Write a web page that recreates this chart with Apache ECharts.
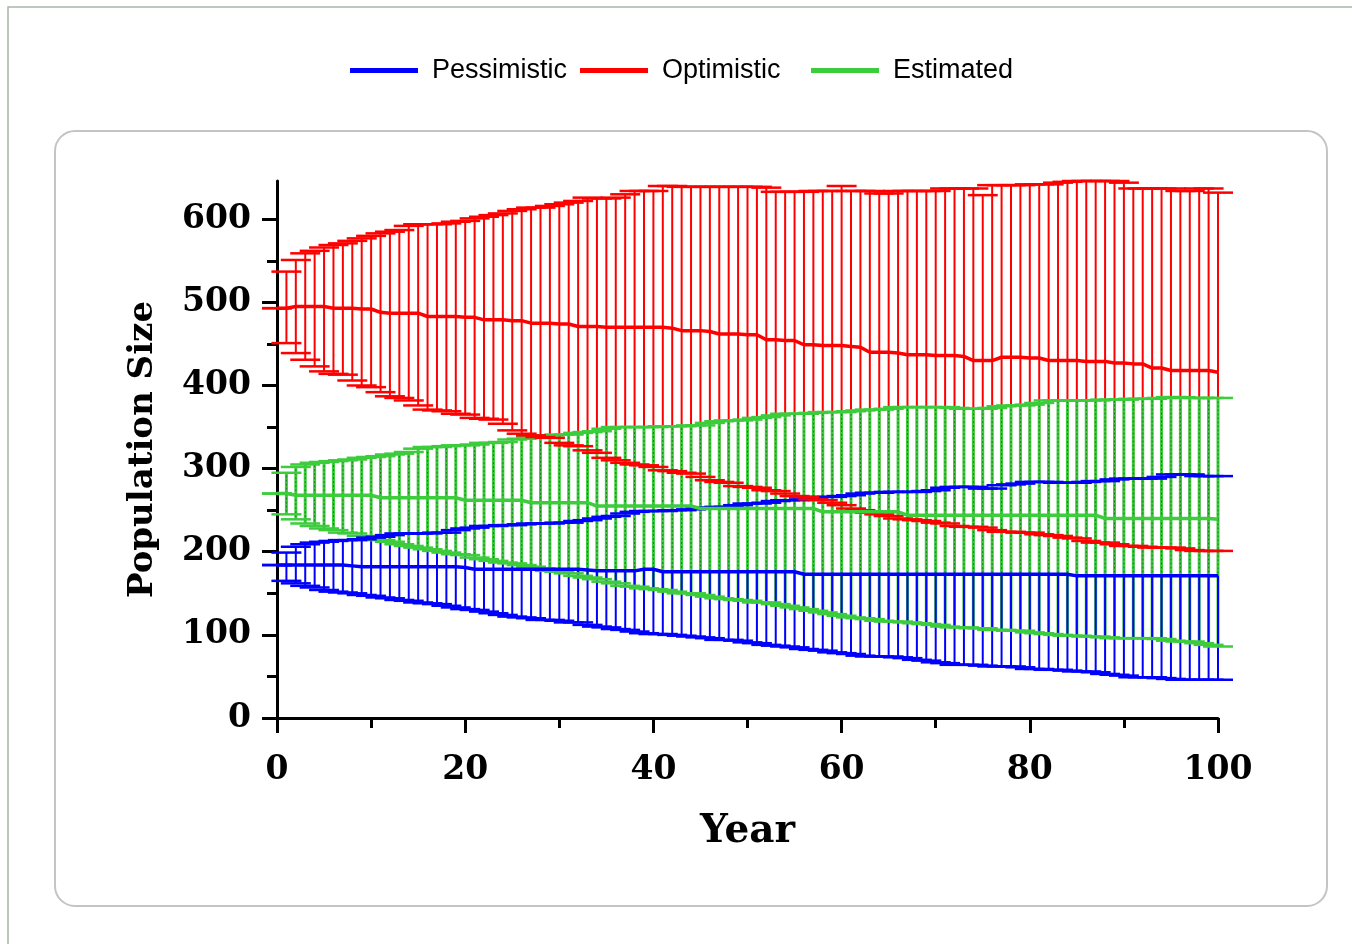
<!DOCTYPE html>
<html>
<head>
<meta charset="utf-8">
<title>Population Size</title>
<script src="https://cdn.jsdelivr.net/npm/echarts@6/dist/echarts.min.js"></script>
<style>
  html, body { margin: 0; padding: 0; background: #fff; }
  #chart { width: 1352px; height: 944px; }
</style>
</head>
<body>
<div id="chart"></div>
<script>
// years 0..100
const years = Array.from({ length: 101 }, (_, i) => i);

// Pessimistic
const pesHigh = [184,
  199,206,209,211,212,213,214,214,215,217,
  218,220,222,222,222,222,223,223,226,228,
  229,231,231,232,232,233,234,234,234,235,
  235,237,238,240,242,243,246,248,249,249,
  249,250,250,251,253,253,254,254,256,258,
  258,259,261,262,262,263,265,266,266,267,
  268,270,271,271,272,272,272,272,273,274,
  277,278,278,278,276,276,280,281,282,284,
  284,284,283,283,283,284,285,285,287,288,
  288,288,288,290,293,293,293,291,291,291];
const pesMean = [184,
  184,184,184,184,184,184,184,183,182,182,
  182,182,182,182,182,182,182,182,182,181,
  179,179,179,179,179,179,179,179,179,179,
  179,179,178,177,177,177,177,177,179,179,
  176,176,176,176,176,176,176,176,176,176,
  176,176,176,176,176,173,173,173,173,173,
  173,173,173,173,173,173,173,173,173,173,
  173,173,173,173,173,173,173,173,173,173,
  173,173,173,173,171,171,171,171,171,171,
  171,171,171,171,171,171,171,171,171,171];
const pesLow = [184,
  165,162,159,157,154,152,151,150,148,147,
  145,144,142,141,139,138,137,135,133,131,
  130,128,126,124,122,121,120,118,118,117,
  115,115,112,110,109,107,106,104,102,101,
  101,100,99,98,97,96,94,94,93,91,
  90,88,87,86,85,83,82,81,79,78,
  77,75,74,74,74,73,72,70,69,67,
  66,64,64,64,63,62,62,62,61,59,
  59,58,58,57,56,56,55,53,52,51,
  49,49,49,48,47,46,46,46,46,46];

// Optimistic
const optHigh = [493,
  537,551,559,562,566,569,571,574,577,580,
  583,585,587,592,594,594,594,595,597,598,
  601,603,605,607,610,612,614,614,616,618,
  620,622,626,625,625,626,630,634,634,634,
  640,640,639,639,639,639,639,639,639,639,
  639,638,633,633,633,633,634,634,634,640,
  634,634,634,631,631,634,634,634,634,634,
  637,637,637,637,629,641,641,641,641,642,
  642,642,644,645,646,646,646,646,646,644,
  637,637,637,637,637,634,634,637,637,632];
const optMean = [493,
  493,495,495,495,495,493,493,493,492,492,
  488,487,487,487,487,483,483,483,483,482,
  482,479,479,479,478,478,475,475,475,474,
  474,471,471,471,470,470,470,470,470,470,
  470,469,466,466,466,465,462,462,462,461,
  461,455,455,454,454,449,449,448,448,448,
  447,446,440,440,440,439,437,437,437,436,
  436,436,435,430,430,430,434,434,434,433,
  433,430,430,430,430,429,429,429,427,427,
  426,426,421,421,418,418,418,418,418,416];
const optLow = [493,
  451,439,431,423,417,414,413,406,400,398,
  392,387,385,382,376,371,370,369,366,365,
  361,360,359,354,346,342,340,338,337,331,
  328,327,322,319,313,310,307,305,304,302,
  298,297,295,294,290,286,284,283,279,278,
  277,274,273,270,267,266,263,262,259,256,
  252,250,247,245,243,240,239,238,237,235,
  234,231,230,230,229,226,224,224,223,223,
  221,220,219,217,216,213,211,211,209,207,
  207,206,205,205,205,204,202,201,201,201];

// Estimated
const estHigh = [270,
  295,302,305,307,308,309,310,311,313,314,
  315,317,318,320,324,326,326,327,328,328,
  329,331,331,332,335,336,338,340,340,341,
  341,343,344,345,348,350,350,350,350,350,
  351,351,351,352,352,355,357,358,358,359,
  361,362,364,366,366,366,367,368,368,368,
  369,370,371,371,372,374,374,374,374,374,
  374,373,372,372,372,373,375,376,376,377,
  379,382,382,382,382,382,382,383,383,383,
  384,384,384,385,386,386,385,385,385,385];
const estMean = [270,
  270,268,268,268,268,268,268,268,268,268,
  265,265,265,265,265,265,265,265,265,262,
  262,262,262,262,262,262,259,259,259,259,
  259,259,259,255,255,255,255,255,255,255,
  255,255,255,255,252,252,252,252,252,252,
  252,252,252,252,252,252,252,248,248,248,
  248,248,248,248,248,248,244,244,244,244,
  244,244,244,244,244,244,244,244,244,244,
  244,244,244,244,244,244,244,240,240,240,
  240,240,240,240,240,240,240,240,240,239];
const estLow = [270,
  245,239,234,231,228,226,223,222,219,217,
  214,212,209,207,205,203,201,199,197,196,
  193,191,189,187,186,184,182,180,177,176,
  174,171,169,167,164,162,159,158,156,155,
  154,152,150,150,148,146,144,143,142,141,
  139,139,137,135,133,131,129,127,125,123,
  121,120,119,117,116,116,115,114,113,112,
  110,109,109,108,108,106,106,105,105,103,
  102,101,100,99,99,98,98,97,96,96,
  96,96,96,95,93,92,92,90,88,86];

const yTicks = [0, 100, 200, 300, 400, 500, 600];
const yMinorTicks = [50, 150, 250, 350, 450, 550];

const BLUE = '#0000ff';
const RED = '#ff0000';
const GREEN = '#3ccc3c';
const GREEN_DOT = '#1e7a1e';

const serifFont = "'DejaVu Serif', serif";

const myChart = echarts.init(document.getElementById('chart'));

// rows: [year, from (mean), to (bound)]
const half = (from, to) => years.map((y, i) => [y, from[i], to[i]]);
const pts = (m) => years.map((y, i) => [y, m[i]]);

// stem of a half error bar (mean -> bound)
const stem = (color, dotColor) => (params, api) => {
    const x = api.value(0);
    const pA = api.coord([x, api.value(1)]);
    const pB = api.coord([x, api.value(2)]);
    const children = [
        { type: 'line', shape: { x1: pA[0], y1: pA[1], x2: pB[0], y2: pB[1] }, style: { stroke: color, lineWidth: dotColor ? 3 : 2 } }
    ];
    if (dotColor) {
        children.push({ type: 'line', shape: { x1: pA[0], y1: pA[1], x2: pB[0], y2: pB[1] }, style: { stroke: dotColor, lineWidth: 1, lineDash: [2, 2] } });
    }
    return { type: 'group', children: children };
};

// cap at the bound
const cap = (color) => (params, api) => {
    const p = api.coord([api.value(0), api.value(2)]);
    const hw = 15;
    return { type: 'line', shape: { x1: p[0] - hw, y1: p[1], x2: p[0] + hw, y2: p[1] }, style: { stroke: color, lineWidth: 2.5 } };
};

const stemSeries = (name, from, to, color, dot, z) => ({
    name: name, type: 'custom', renderItem: stem(color, dot),
    data: half(from, to), encode: { x: 0, y: [1, 2] }, z: z
});
const capSeries = (name, from, to, color, z) => ({
    name: name, type: 'custom', renderItem: cap(color),
    data: half(from, to), encode: { x: 0, y: [1, 2] }, z: z
});
const meanSeries = (name, m, color, z) => ({
    name: name, type: 'line', data: pts(m), showSymbol: false, symbol: 'none',
    lineStyle: { color: color, width: 3.5 }, itemStyle: { color: color }, z: z
});

const legendBase = {
    orient: 'horizontal',
    top: 57,
    padding: 0,
    icon: 'rect',
    itemWidth: 68,
    itemHeight: 5,
    textStyle: { fontSize: 27, fontFamily: "'Liberation Sans', Arial, sans-serif", color: '#000', padding: [0, 0, 0, 9] },
    selectedMode: false
};

let option = {
    backgroundColor: '#fff',
    animation: false,
    graphic: [
        { type: 'rect', z: -10, shape: { x: 8, y: 7, width: 1400, height: 1000 }, style: { fill: '#fff', stroke: '#a9b5a9', lineWidth: 1.5 } },
        { type: 'rect', z: -9, shape: { x: 55, y: 131, width: 1272, height: 775, r: 20 }, style: { fill: '#fff', stroke: '#c4c4c4', lineWidth: 2 } }
    ],
    legend: [
        Object.assign({}, legendBase, { left: 350, data: [{ name: 'Pessimistic', itemStyle: { color: BLUE } }] }),
        Object.assign({}, legendBase, { left: 580, data: [{ name: 'Optimistic', itemStyle: { color: RED } }] }),
        Object.assign({}, legendBase, { left: 811, data: [{ name: 'Estimated', itemStyle: { color: GREEN } }] })
    ],
    grid: { left: 277, right: 134, top: 181, bottom: 226 },
    xAxis: {
        type: 'value',
        min: 0,
        max: 100,
        interval: 20,
        name: 'Year',
        nameLocation: 'middle',
        nameGap: 94,
        nameTextStyle: { fontFamily: serifFont, fontWeight: 'bold', fontSize: 39, color: '#000' },
        splitLine: { show: false },
        axisLine: { lineStyle: { color: '#000', width: 3 } },
        axisTick: { length: 15, lineStyle: { color: '#000', width: 3 } },
        minorTick: { show: true, splitNumber: 2, length: 10, lineStyle: { color: '#000', width: 3 } },
        axisLabel: { margin: 36, fontFamily: serifFont, fontWeight: 'bold', fontSize: 33, color: '#000' }
    },
    yAxis: [
        {
            type: 'value',
            min: 0,
            max: 646,
            name: 'Population Size',
            nameLocation: 'middle',
            nameGap: 117,
            nameTextStyle: { fontFamily: serifFont, fontWeight: 'bold', fontSize: 34, color: '#000' },
            splitLine: { show: false },
            axisLine: { show: true, lineStyle: { color: '#000', width: 3 } },
            axisTick: { show: true, length: 15, customValues: yTicks, lineStyle: { color: '#000', width: 3 } },
            axisLabel: { margin: 26, customValues: yTicks, fontFamily: serifFont, fontWeight: 'bold', fontSize: 33, color: '#000' }
        },
        {
            type: 'value',
            min: 0,
            max: 646,
            position: 'left',
            splitLine: { show: false },
            axisLine: { show: false },
            axisTick: { show: true, length: 10, customValues: yMinorTicks, lineStyle: { color: '#000', width: 3 } },
            axisLabel: { show: false }
        }
    ],
    series: [
        // stems: red, blue upper half, green, blue lower half
        stemSeries('Optimistic', optMean, optHigh, RED, null, 1),
        stemSeries('Optimistic', optMean, optLow, RED, null, 1),
        stemSeries('Pessimistic', pesMean, pesHigh, BLUE, null, 2),
        stemSeries('Estimated', estMean, estHigh, GREEN, GREEN_DOT, 3),
        stemSeries('Estimated', estMean, estLow, GREEN, GREEN_DOT, 3),
        stemSeries('Pessimistic', pesMean, pesLow, BLUE, null, 4),
        // caps on top of the stems
        capSeries('Estimated', estMean, estHigh, GREEN, 5),
        capSeries('Estimated', estMean, estLow, GREEN, 5),
        capSeries('Pessimistic', pesMean, pesHigh, BLUE, 6),
        capSeries('Pessimistic', pesMean, pesLow, BLUE, 6),
        capSeries('Optimistic', optMean, optHigh, RED, 7),
        capSeries('Optimistic', optMean, optLow, RED, 7),
        // mean lines
        meanSeries('Estimated', estMean, GREEN, 8),
        meanSeries('Pessimistic', pesMean, BLUE, 9),
        meanSeries('Optimistic', optMean, RED, 10)
    ]
};

myChart.setOption(option);
</script>
</body>
</html>
